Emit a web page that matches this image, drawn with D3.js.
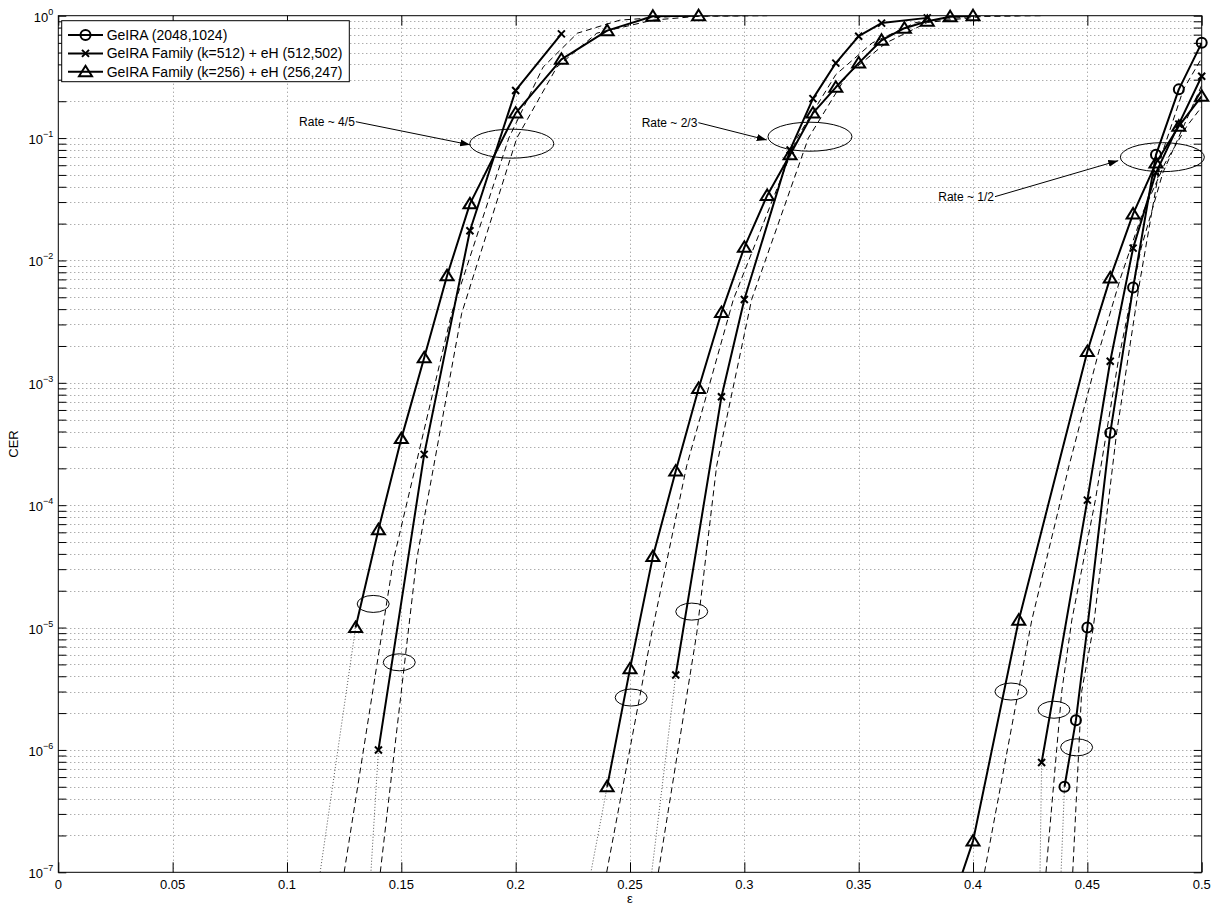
<!DOCTYPE html>
<html>
<head>
<meta charset="utf-8">
<script src="https://cdn.jsdelivr.net/npm/d3@7"></script>
<style>
  body { margin: 0; background: #fff; }
  text { font-family: "Liberation Sans", Arial, Helvetica, sans-serif; }
</style>
</head>
<body>
<div id="chart"></div>
<script>
// ---- simulated curves (solid + markers) ----
// rate ~ 4/5
var tri45Eps = [0.13, 0.14, 0.15, 0.16, 0.17, 0.18, 0.20, 0.22, 0.24, 0.26, 0.28];
var tri45Cer = [1e-5, 6.3e-5, 3.5e-4, 1.6e-3, 7.5e-3, 2.9e-2, 0.16, 0.44, 0.755, 0.99, 1.0];
var x45Eps = [0.14, 0.16, 0.18, 0.20, 0.22];
var x45Cer = [1e-6, 2.6e-4, 0.0175, 0.245, 0.71];
// rate ~ 2/3
var tri23Eps = [0.24, 0.25, 0.26, 0.27, 0.28, 0.29, 0.30, 0.31, 0.32, 0.33, 0.34, 0.35, 0.36, 0.37, 0.38, 0.39, 0.40];
var tri23Cer = [5e-7, 4.6e-6, 3.8e-5, 1.9e-4, 9e-4, 3.75e-3, 0.0128, 0.034, 0.073, 0.16, 0.26, 0.41, 0.63, 0.79, 0.9, 0.98, 1.0];
var x23Eps = [0.27, 0.29, 0.30, 0.32, 0.33, 0.34, 0.35, 0.36, 0.38];
var x23Cer = [4.1e-6, 7.7e-4, 4.8e-3, 0.08, 0.21, 0.41, 0.68, 0.87, 0.96];
// rate ~ 1/2
var tri12Eps = [0.39, 0.40, 0.42, 0.45, 0.46, 0.47, 0.48, 0.49, 0.50];
var tri12Cer = [5e-8, 1.8e-7, 1.15e-5, 1.8e-3, 7.2e-3, 0.024, 0.0625, 0.125, 0.22];
var x12Eps = [0.43, 0.45, 0.46, 0.47, 0.48, 0.49, 0.50];
var x12Cer = [7.9e-7, 1.1e-4, 1.5e-3, 0.0126, 0.052, 0.13, 0.32];
var c12Eps = [0.44, 0.445, 0.45, 0.46, 0.47, 0.48, 0.49, 0.50];
var c12Cer = [5e-7, 1.75e-6, 1e-5, 3.9e-4, 6e-3, 0.073, 0.25, 0.6];

// ---- theoretical curves (dashed) ----
var dashA45Eps = [0.125, 0.1466, 0.172, 0.197, 0.212, 0.227, 0.2456, 0.27, 0.30];
var dashB45Eps = [0.1408, 0.1567, 0.1764, 0.2005, 0.218, 0.2355, 0.26, 0.28, 0.31];
var dash45Cer  = [1e-7, 3.6e-5, 3.7e-3, 0.1, 0.38, 0.72, 0.92, 0.99, 1.0];
var dashA23Eps = [0.2398, 0.2595, 0.2748, 0.2952, 0.323, 0.34, 0.356, 0.375, 0.40, 0.42];
var dashB23Eps = [0.2624, 0.2792, 0.2879, 0.3032, 0.328, 0.345, 0.362, 0.38, 0.405, 0.43];
var dash23Cer  = [1e-7, 9e-6, 2.1e-4, 4.8e-3, 0.1, 0.33, 0.6, 0.88, 0.99, 1.0];
var dashA12Eps = [0.405, 0.4198, 0.4257, 0.442, 0.455, 0.4645, 0.474, 0.484, 0.4935, 0.5];
var dashA12Cer = [1e-7, 3e-6, 1.15e-5, 2.1e-4, 1.8e-3, 7.2e-3, 0.024, 0.0625, 0.125, 0.18];
var dashB12Eps = [0.4319, 0.4388, 0.4432, 0.4535, 0.4635, 0.4735, 0.483, 0.4925, 0.5];
var dashB12Cer = [1e-7, 3e-6, 1.15e-5, 1.1e-4, 1.5e-3, 0.0126, 0.052, 0.13, 0.27];
var dashC12Eps = [0.4436, 0.4475, 0.4526, 0.4628, 0.4725, 0.4825, 0.492, 0.5];
var dashC12Cer = [1e-7, 3e-6, 1e-5, 3.9e-4, 6e-3, 0.073, 0.25, 0.45];

// ---- dotted extrapolations below last simulated point ----
var dotEps = [[0.13, 0.1145], [0.14, 0.1367], [0.24, 0.2329], [0.27, 0.2595], [0.43, 0.4293], [0.44, 0.4385]];
var dotCer = [[1e-5, 1e-7], [1e-6, 1e-7], [5e-7, 1e-7], [4.1e-6, 1e-7], [7.9e-7, 1e-7], [5e-7, 1e-7]];

// ---- annotations ----
var bigEllEps = [0.1983, 0.3287, 0.4828];
var bigEllCer = [0.09, 0.1026, 0.0698];
var smallEllEps = [0.1377, 0.1491, 0.2505, 0.277, 0.4166, 0.4354, 0.4453];
var smallEllCer = [1.56e-5, 5.2e-6, 2.68e-6, 1.35e-5, 3.0e-6, 2.13e-6, 1.05e-6];
var rateLabels = ["Rate ~ 4/5", "Rate ~ 2/3", "Rate ~ 1/2"];
var rateTextEps = [0.1053, 0.2551, 0.3848];
var rateTextCer = [0.136, 0.1336, 0.0332];
var rateTipEps = [0.1801, 0.3098, 0.4635];
var rateTipCer = [0.088, 0.0965, 0.0654];

// ---- axes ----
var xTicks = [0, 0.05, 0.1, 0.15, 0.2, 0.25, 0.3, 0.35, 0.4, 0.45, 0.5];
var xTickLabels = ["0", "0.05", "0.1", "0.15", "0.2", "0.25", "0.3", "0.35", "0.4", "0.45", "0.5"];
var yExponents = [-7, -6, -5, -4, -3, -2, -1, 0];
var legendLabels = ["GeIRA (2048,1024)", "GeIRA Family (k=512) + eH (512,502)", "GeIRA Family (k=256) + eH (256,247)"];
var legendMarkers = ["circle", "cross", "tri"];

var width = 1222, height = 907;
var margin = {top: 15.7, right: 20.3, bottom: 34.7, left: 58.3};

var svg = d3.select("#chart").append("svg")
  .attr("width", width).attr("height", height)
  .style("background", "#fff");

var x = d3.scaleLinear().domain([0, 0.5]).range([margin.left, width - margin.right]);
var y = d3.scaleLog().domain([1e-7, 1]).range([height - margin.bottom, margin.top]);

var x0 = x(0), x1 = x(0.5), y0 = y(1e-7), y1 = y(1);

svg.append("defs").append("clipPath").attr("id", "plotclip")
  .append("rect").attr("x", x0).attr("y", y1).attr("width", x1 - x0).attr("height", y0 - y1);

var arrowDef = svg.select("defs").append("marker")
  .attr("id", "arrowhead").attr("viewBox", "0 0 10 10")
  .attr("refX", 10).attr("refY", 5)
  .attr("markerWidth", 10).attr("markerHeight", 10)
  .attr("markerUnits", "userSpaceOnUse")
  .attr("orient", "auto");
arrowDef.append("path").attr("d", "M0,1.5L10,5L0,8.5Z").attr("fill", "#000");

// minor log ticks
var yMinor = [];
yExponents.forEach(function(e) {
  if (e === 0) return;
  for (var k = 2; k <= 9; k++) yMinor.push(k * Math.pow(10, e));
});
var yMajor = yExponents.map(function(e) { return Math.pow(10, e); });

// grid
var grid = svg.append("g").attr("class", "grid")
  .attr("stroke", "#8a8a8a").attr("stroke-width", 1).attr("stroke-dasharray", "1,3");
grid.selectAll(".gx").data(xTicks.slice(1, -1)).enter().append("line")
  .attr("x1", function(d) { return Math.round(x(d)) + 0.5; })
  .attr("x2", function(d) { return Math.round(x(d)) + 0.5; })
  .attr("y1", y1).attr("y2", y0);
grid.selectAll(".gy").data(yMajor.slice(1, -1).concat(yMinor)).enter().append("line")
  .attr("x1", x0).attr("x2", x1)
  .attr("y1", function(d) { return Math.round(y(d)) + 0.5; })
  .attr("y2", function(d) { return Math.round(y(d)) + 0.5; });

// axes (ticks inside, box)
var tickStyle = function(g) {
  g.select(".domain").remove();
  g.selectAll(".tick line").attr("stroke", "#000").attr("stroke-width", 1);
  g.selectAll(".tick text").remove();
};
svg.append("g").attr("transform", "translate(0," + y0 + ")")
  .call(d3.axisBottom(x).tickValues(xTicks).tickSize(-10)).call(tickStyle);
svg.append("g").attr("transform", "translate(0," + y1 + ")")
  .call(d3.axisTop(x).tickValues(xTicks).tickSize(-10)).call(tickStyle);
svg.append("g").attr("transform", "translate(" + x0 + ",0)")
  .call(d3.axisLeft(y).tickValues(yMajor.concat(yMinor)).tickSize(-8)).call(tickStyle);
svg.append("g").attr("transform", "translate(" + x1 + ",0)")
  .call(d3.axisRight(y).tickValues(yMajor.concat(yMinor)).tickSize(-8)).call(tickStyle);

// x tick labels
svg.append("g").selectAll("text").data(xTicks).enter().append("text")
  .attr("x", function(d) { return x(d); })
  .attr("y", y0 + 17)
  .attr("text-anchor", "middle")
  .attr("font-size", "13px")
  .text(function(d, i) { return xTickLabels[i]; });

// y tick labels with superscripts
var ylab = svg.append("g").selectAll("text").data(yExponents).enter().append("text")
  .attr("x", x0 - 5)
  .attr("y", function(d) { return y(Math.pow(10, d)) + 6; })
  .attr("text-anchor", "end")
  .attr("font-size", "13px");
ylab.append("tspan").text("10");
ylab.append("tspan").attr("dy", -7).attr("font-size", "9px").text(function(d) { return d === 0 ? "0" : "\u2212" + (-d); });

svg.append("text")
  .attr("x", (x0 + x1) / 2).attr("y", height - 4)
  .attr("text-anchor", "middle").attr("font-size", "13px").text("\u03b5");
svg.append("text")
  .attr("transform", "translate(18," + ((y0 + y1) / 2) + ") rotate(-90)")
  .attr("text-anchor", "middle").attr("font-size", "13px").text("CER");

var plot = svg.append("g").attr("clip-path", "url(#plotclip)");
var line = d3.line().x(function(d) { return x(d[0]); }).y(function(d) { return y(d[1]); });
var zipPts = function(a, b) { return a.map(function(v, i) { return [v, b[i]]; }); };

// dotted extrapolations
dotEps.forEach(function(e, i) {
  plot.append("path").datum(zipPts(e, dotCer[i])).attr("d", line)
    .attr("fill", "none").attr("stroke", "#555").attr("stroke-width", 1).attr("stroke-dasharray", "1,2");
});

// dashed theory
[[dashA45Eps, dash45Cer], [dashB45Eps, dash45Cer], [dashA23Eps, dash23Cer], [dashB23Eps, dash23Cer],
 [dashA12Eps, dashA12Cer], [dashB12Eps, dashB12Cer], [dashC12Eps, dashC12Cer]].forEach(function(s) {
  plot.append("path").datum(zipPts(s[0], s[1])).attr("d", line)
    .attr("fill", "none").attr("stroke", "#000").attr("stroke-width", 1).attr("stroke-dasharray", "6,4");
});

// simulated series
var series = [
  {eps: tri45Eps, cer: tri45Cer, mk: "tri"},
  {eps: x45Eps, cer: x45Cer, mk: "cross"},
  {eps: tri23Eps, cer: tri23Cer, mk: "tri"},
  {eps: x23Eps, cer: x23Cer, mk: "cross"},
  {eps: tri12Eps, cer: tri12Cer, mk: "tri"},
  {eps: x12Eps, cer: x12Cer, mk: "cross"},
  {eps: c12Eps, cer: c12Cer, mk: "circle"}
];
series.forEach(function(s) {
  plot.append("path").datum(zipPts(s.eps, s.cer)).attr("d", line)
    .attr("fill", "none").attr("stroke", "#000").attr("stroke-width", 2).attr("stroke-linejoin", "round");
});

function drawMarker(g, type, cx, cy) {
  if (type === "circle") {
    g.append("circle").attr("cx", cx).attr("cy", cy).attr("r", 5)
      .attr("fill", "none").attr("stroke", "#000").attr("stroke-width", 2);
  } else if (type === "tri") {
    g.append("path").attr("transform", "translate(" + cx + "," + cy + ")")
      .attr("d", "M0,-6L6.5,4.5L-6.5,4.5Z")
      .attr("fill", "none").attr("stroke", "#000").attr("stroke-width", 2).attr("stroke-linejoin", "miter");
  } else {
    g.append("path").attr("transform", "translate(" + cx + "," + cy + ")")
      .attr("d", "M-3.5,-3.5L3.5,3.5M-3.5,3.5L3.5,-3.5")
      .attr("stroke", "#000").attr("stroke-width", 2);
  }
}
var marks = svg.append("g");
series.forEach(function(s) {
  s.eps.forEach(function(e, i) {
    if (s.cer[i] < 1e-7) return;
    drawMarker(marks, s.mk, x(e), y(s.cer[i]));
  });
});

// annotations
var ann = svg.append("g").attr("fill", "none").attr("stroke", "#000").attr("stroke-width", 1);
bigEllEps.forEach(function(e, i) {
  ann.append("ellipse").attr("cx", x(e)).attr("cy", y(bigEllCer[i])).attr("rx", 42).attr("ry", 14.5);
});
smallEllEps.forEach(function(e, i) {
  ann.append("ellipse").attr("cx", x(e)).attr("cy", y(smallEllCer[i])).attr("rx", 16).attr("ry", 8.5);
});
rateLabels.forEach(function(lbl, i) {
  var tx = x(rateTextEps[i]), ty = y(rateTextCer[i]);
  var t = svg.append("text").attr("x", tx).attr("y", ty + 4)
    .attr("font-size", "12px").attr("fill", "#000").text(lbl);
  var w = t.node().getComputedTextLength();
  svg.append("line")
    .attr("x1", tx + w + 1).attr("y1", ty)
    .attr("x2", x(rateTipEps[i])).attr("y2", y(rateTipCer[i]))
    .attr("stroke", "#000").attr("stroke-width", 1)
    .attr("marker-end", "url(#arrowhead)");
});

// box
svg.append("rect").attr("x", x0).attr("y", y1).attr("width", x1 - x0).attr("height", y0 - y1)
  .attr("fill", "none").attr("stroke", "#000").attr("stroke-width", 1);

// legend
var leg = svg.append("g");
leg.append("rect").attr("x", 61.7).attr("y", 20.7).attr("width", 287.6).attr("height", 61)
  .attr("fill", "#fff").attr("stroke", "#000").attr("stroke-width", 1);
legendLabels.forEach(function(lbl, i) {
  var ly = 35 + i * 18.4;
  leg.append("line").attr("x1", 68).attr("x2", 103).attr("y1", ly).attr("y2", ly)
    .attr("stroke", "#000").attr("stroke-width", 2);
  drawMarker(leg, legendMarkers[i], 85.5, ly);
  leg.append("text").attr("x", 106.7).attr("y", ly + 5).attr("font-size", "14px").text(lbl);
});
</script>
</body>
</html>
